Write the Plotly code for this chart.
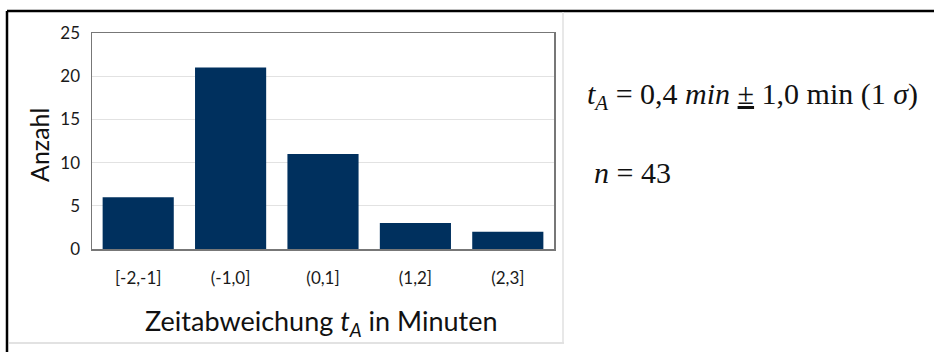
import plotly.graph_objects as go

categories = ["[-2,-1]", "(-1,0]", "(0,1]", "(1,2]", "(2,3]"]
counts = [6, 21, 11, 3, 2]
y_ticks = [0, 5, 10, 15, 20, 25]

W, H = 934, 352
def px(x): return x / W
def py(y): return 1 - y / H

fig = go.Figure()
fig.add_trace(go.Bar(x=categories, y=counts, marker=dict(color="#00305E", line=dict(width=0)),
                     width=0.77, hoverinfo="skip"))

fig.update_layout(
    template="none",
    width=W, height=H, margin=dict(l=0, r=0, t=0, b=0, pad=0, autoexpand=False),
    paper_bgcolor="white", plot_bgcolor="white", showlegend=False,
    font=dict(family="Lato", color="#222"),
    xaxis=dict(domain=[px(92), px(554)], showgrid=False, showline=True, linecolor="#777",
               linewidth=1.5, mirror=True, tickfont=dict(size=17, color="#1a1a1a"), ticks="",
               ticklabelstandoff=13, fixedrange=True, automargin=False),
    yaxis=dict(domain=[py(249), py(33)], range=[0, 25], tickvals=y_ticks, showgrid=True,
               gridcolor="#e2e2e2", gridwidth=1, showline=True, linecolor="#777", linewidth=1.5,
               mirror=True, zeroline=False, tickfont=dict(size=17, color="#1a1a1a"), ticks="",
               ticklabelstandoff=7, fixedrange=True, automargin=False),
)

# Axis titles
fig.add_annotation(text="Zeitabweichung <i>t</i><sub><i>A</i></sub> in Minuten", x=px(321), y=py(322),
                   xref="paper", yref="paper", showarrow=False, font=dict(size=27, family="Lato", color="#111"),
                   xanchor="center", yanchor="middle")
fig.add_annotation(text="Anzahl", x=px(39), y=py(145), xref="paper", yref="paper", showarrow=False,
                   textangle=-90, font=dict(size=25, family="Lato", color="#111"),
                   xanchor="center", yanchor="middle")

# Formula text
fig.add_annotation(text="<i>t</i><sub><i>A</i></sub> = 0,4 <i>min</i> <u>±</u> 1,0 min (1 <i>σ</i>)",
                   x=px(585), y=py(96), xref="paper", yref="paper", showarrow=False,
                   font=dict(size=30, family="Liberation Serif", color="#111"),
                   xanchor="left", yanchor="middle")
fig.add_annotation(text="<i>n</i> = 43", x=px(592), y=py(172), xref="paper", yref="paper",
                   showarrow=False, font=dict(size=30, family="Liberation Serif", color="#111"),
                   xanchor="left", yanchor="middle")

# Frame lines
shapes = [
    dict(type="line", x0=px(7), x1=1, y0=py(11), y1=py(11), line=dict(color="black", width=2.5)),
    dict(type="line", x0=px(7), x1=px(7), y0=py(11), y1=0, line=dict(color="black", width=2.5)),
    dict(type="line", x0=px(9), x1=px(564), y0=py(343), y1=py(343), line=dict(color="#d8d8d8", width=1.5)),
    dict(type="line", x0=px(563), x1=px(563), y0=py(12), y1=py(343), line=dict(color="#e0e0e0", width=1.5)),
]
for s in shapes:
    s.update(xref="paper", yref="paper")
fig.update_layout(shapes=shapes)

fig.write_html("out.html", config={"displayModeBar": False, "staticPlot": True},
               post_script="document.body.style.margin='0';document.body.style.overflow='hidden';")
